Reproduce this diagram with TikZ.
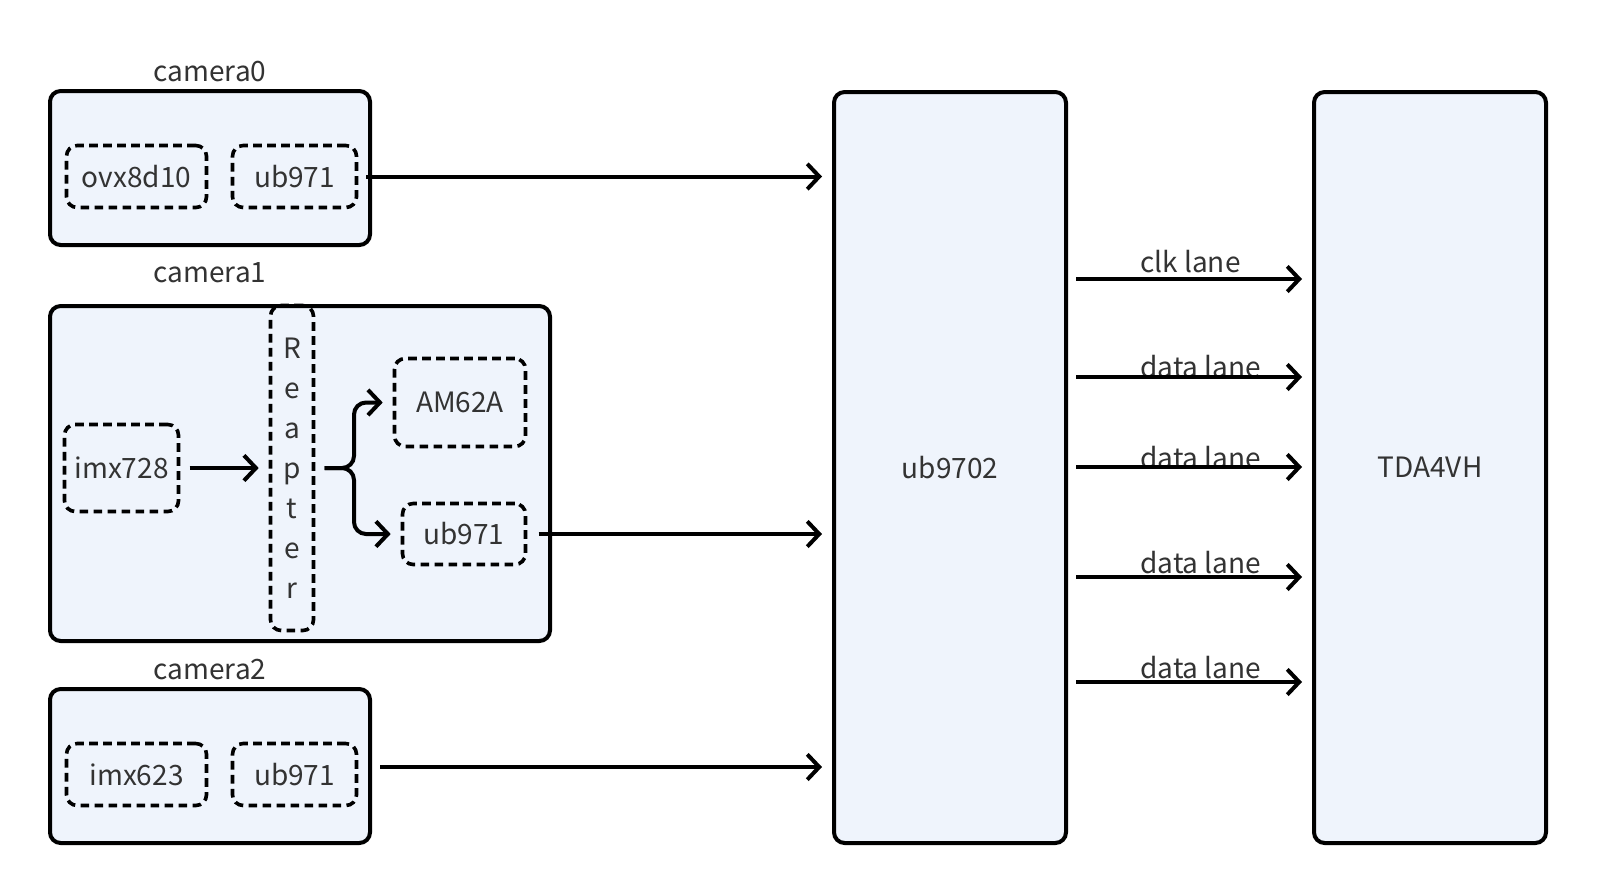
\documentclass[tikz,border=0pt]{standalone}
\usepackage{fontspec}
\setmainfont{Noto Sans CJK SC}
\usetikzlibrary{arrows.meta}
\definecolor{boxfill}{HTML}{EFF4FC}
\definecolor{txt}{HTML}{333333}
\begin{document}
\begin{tikzpicture}[x=0.75pt,y=-0.75pt,
  every node/.style={font=\fontsize{21}{30}\selectfont, text=txt},
  outerbox/.style={draw=black, line width=3pt, fill=boxfill, rounded corners=8pt, inner sep=0pt},
  dbox/.style={draw=black, line width=2.7pt, dash pattern=on 6.5pt off 4pt, rounded corners=8pt, inner sep=0pt, align=center},
  arr/.style={draw=black, line width=3pt, shorten >=7.5pt, shorten <=7pt,
    -{Straight Barb[length=9pt,width=19pt,line width=3pt]}},
  lbl/.style={inner sep=0pt}]
\useasboundingbox (0,0) rectangle (1598,894);
\fill[white] (0,0) rectangle (1598,894);

% outer boxes
\node[outerbox, minimum width=240pt, minimum height=115.5pt] (cam0) at (210,168) {};
\node[outerbox, minimum width=375pt, minimum height=251.25pt] (cam1) at (300,473.5) {};
\node[outerbox, minimum width=240pt, minimum height=115.5pt] (cam2) at (210,766) {};
\node[outerbox, minimum width=174pt, minimum height=563.25pt] (ub9702) at (950,467.5) {ub9702};
\node[outerbox, minimum width=174pt, minimum height=563.25pt] (tda) at (1430,467.5) {TDA4VH};

% camera labels
\node[lbl] (l0) at (210,72) {camera0};
\node[lbl] (l1) at (210,273) {camera1};
\node[lbl] (l2) at (210,670) {camera2};

% camera0
\node[dbox, minimum width=105pt, minimum height=46.5pt] (ovx) at (136.5,176.5) {ovx8d10};
\node[dbox, minimum width=93pt, minimum height=46.5pt] (ubA) at (294.5,176.5) {ub971};
% camera2
\node[dbox, minimum width=105pt, minimum height=46.5pt] (imx623) at (136.5,774.5) {imx623};
\node[dbox, minimum width=93pt, minimum height=46.5pt] (ubC) at (294.5,774.5) {ub971};
% camera1
\node[dbox, minimum width=85.5pt, minimum height=65.25pt] (imx728) at (121.5,468) {imx728};
\node[dbox, minimum width=32.25pt, minimum height=243.75pt] (rep) at (292,468) {R\\e\\a\\p\\t\\e\\r};
\node[dbox, minimum width=98.25pt, minimum height=66pt] (am) at (460,402.5) {AM62A};
\node[dbox, minimum width=92.25pt, minimum height=45.75pt] (ubB) at (464,534) {ub971};

% connectors inside camera1
\draw[arr] (imx728) -- (rep);
\coordinate (fork) at (354,468);
\draw[arr, rounded corners=9pt] (rep.east) -- (fork) |- (am.west);
\draw[arr, rounded corners=9pt] (rep.east) -- (fork) |- (ubB.west);

% camera outputs
\draw[arr, shorten <=6pt] (ubA.east) -- (ub9702.west |- ubA.east);
\draw[arr, shorten <=8.5pt] (ubB.east) -- (ub9702.west |- ubB.east);
\coordinate (c2out) at (380,767);
\draw[arr, shorten <=0pt] (c2out) -- (ub9702.west |- c2out);

% lanes
\node[lbl, anchor=west] (ln0) at (1140,262) {clk lane};
\node[lbl, anchor=west] (ln1) at (1140,367) {data lane};
\node[lbl, anchor=west] (ln2) at (1140,458) {data lane};
\node[lbl, anchor=west] (ln3) at (1140,563) {data lane};
\node[lbl, anchor=west] (ln4) at (1140,668) {data lane};
\foreach \yy/\nm in {279/a,377/b,467/c,577/d,682/e}{
  \coordinate (s\nm) at (1068,\yy);
  \draw[arr, shorten <=6pt] (ub9702.east |- s\nm) -- (tda.west |- s\nm);
}
\end{tikzpicture}
\end{document}
